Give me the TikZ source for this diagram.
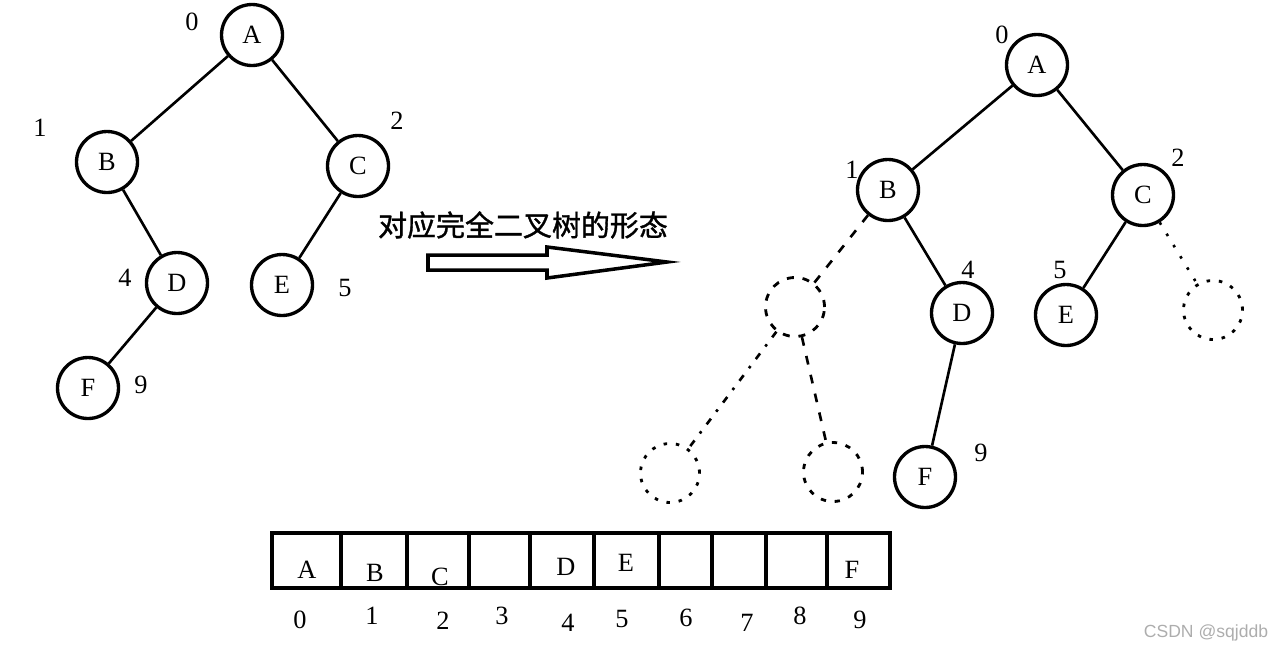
\documentclass[tikz,border=0pt]{standalone}
\usepackage{fontspec}
\setmainfont{Liberation Serif}
\newfontfamily\cjk[FakeBold=1.2]{Noto Sans CJK SC}
\newfontfamily\wmfont{Liberation Sans}
\definecolor{MarkClr}{rgb}{0.68,0.68,0.68}
\newcommand\lblsize{\fontsize{15}{18}\selectfont}

\begin{document}
\begin{tikzpicture}[x=0.02cm,y=-0.02cm,
  vtx/.style={circle,draw,line width=1.9pt,minimum size=1.22cm,inner sep=0pt,font=\lblsize},
  ghost/.style={circle,draw,line width=1.6pt,minimum size=1.18cm,inner sep=0pt},
  idx/.style={font=\lblsize,inner sep=0pt},
  link/.style={line width=1.5pt},
  cellline/.style={line width=2pt}]
\useasboundingbox (0,0) rectangle (1282,654);

\node[vtx] (lA) at (252,35) {A};
\node[vtx] (lB) at (107,162) {B};
\node[vtx] (lC) at (358,166) {C};
\node[vtx] (lD) at (177,283) {D};
\node[vtx] (lE) at (282,285) {E};
\node[vtx] (lF) at (88,388) {F};

\draw[link] (lA) -- (lB);
\draw[link] (lA) -- (lC);
\draw[link] (lB) -- (lD);
\draw[link] (lC) -- (lE);
\draw[link] (lD) -- (lF);

\node[idx] (l0) at (192,22) {0};
\node[idx] (l1) at (40,128) {1};
\node[idx] (l2) at (397,121) {2};
\node[idx] (l4) at (125,278) {4};
\node[idx] (l5) at (345,288) {5};
\node[idx] (l9) at (141,385) {9};

\node[font=\cjk\fontsize{16.5}{18}\selectfont,inner sep=0pt] (cap) at (523,225) {对应完全二叉树的形态};
\draw[line width=2pt] (428,255) -- (547,255) -- (547,247) -- (667,262) -- (547,278) -- (547,270) -- (428,270) -- cycle;

\node[vtx] (rA) at (1037,65) {A};
\node[vtx] (rB) at (888,190) {B};
\node[vtx] (rC) at (1143,195) {C};
\node[vtx] (rD) at (962,313) {D};
\node[vtx] (rE) at (1066,315) {E};
\node[vtx] (rF) at (925,477) {F};
\node[ghost,dash pattern=on 4pt off 5pt] (x3) at (795,307) {};
\node[ghost,dash pattern=on 2pt off 5pt] (x6) at (1213,310) {};
\node[ghost,dash pattern=on 2pt off 5pt] (x7) at (670,473) {};
\node[ghost,dash pattern=on 3pt off 5pt] (x8) at (833,472) {};

\draw[link] (rA) -- (rB);
\draw[link] (rA) -- (rC);
\draw[link] (rB) -- (rD);
\draw[link] (rC) -- (rE);
\draw[link] (rD) -- (rF);
\draw[link,dash pattern=on 5pt off 6pt] (rB) -- (x3);
\draw[link,dash pattern=on 1.5pt off 6pt] (rC) -- (x6);
\draw[link,dash pattern=on 4pt off 5pt on 1.5pt off 5pt] (x3) -- (x7);
\draw[link,dash pattern=on 5pt off 6pt] (x3) -- (x8);

\node[idx] (r0) at (1002,35) {0};
\node[idx] (r1) at (852,170) {1};
\node[idx] (r2) at (1178,158) {2};
\node[idx] (r4) at (968,270) {4};
\node[idx] (r5) at (1060,270) {5};
\node[idx] (r9) at (981,453) {9};

\foreach \a/\b in {272/341,341/407,407/469,469/530,530/594,594/659,659/712,712/766,766/827,827/890}
  \draw[cellline] (\a,533) rectangle (\b,588);
\foreach \t/\x/\y in {A/307/570,B/375/573,C/440/577,D/566/567,E/626/563,F/852/570}
  \node[idx] (v\t) at (\x,\y) {\t};
\foreach \t/\x/\y in {0/300/620,1/372/616,2/443/621,3/502/616,4/568/623,5/622/619,6/686/618,7/747/623,8/800/616,9/860/620}
  \node[idx] (n\t) at (\x,\y) {\t};

\node[font=\wmfont\fontsize{10}{12}\selectfont,text=MarkClr,inner sep=0pt] (wm) at (1206,633) {CSDN @sqjddb};
\end{tikzpicture}
\end{document}
